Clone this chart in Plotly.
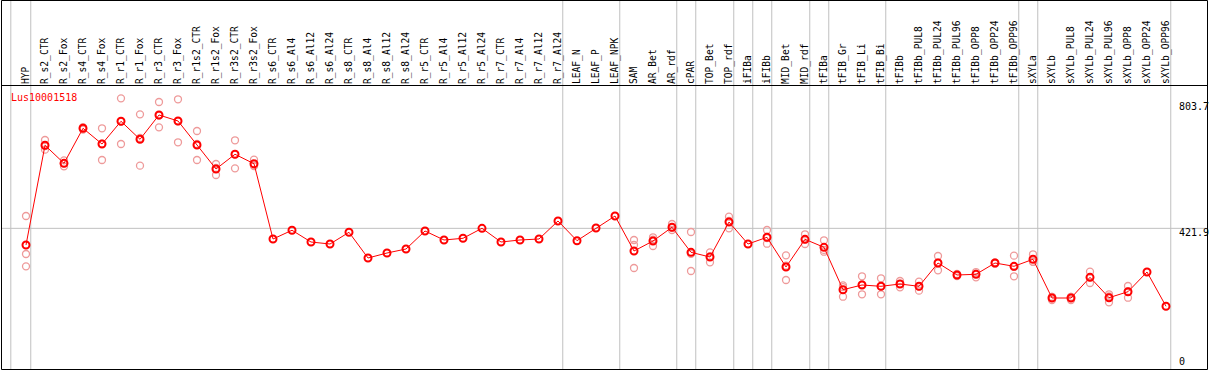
import plotly.graph_objects as go

categories = ["HYP", "R_s2_CTR", "R_s2_Fox", "R_s4_CTR", "R_s4_Fox", "R_r1_CTR", "R_r1_Fox",
              "R_r3_CTR", "R_r3_Fox", "R_r1s2_CTR", "R_r1s2_Fox", "R_r3s2_CTR", "R_r3s2_Fox",
              "R_s6_CTR", "R_s6_Al4", "R_s6_Al12", "R_s6_Al24", "R_s8_CTR", "R_s8_Al4",
              "R_s8_Al12", "R_s8_Al24", "R_r5_CTR", "R_r5_Al4", "R_r5_Al12", "R_r5_Al24",
              "R_r7_CTR", "R_r7_Al4", "R_r7_Al12", "R_r7_Al24", "LEAF_N", "LEAF_P", "LEAF_NPK",
              "SAM", "AR_Bet", "AR_rdf", "cPAR", "TOP_Bet", "TOP_rdf", "iFIBa", "iFIBb",
              "MID_Bet", "MID_rdf", "tFIBa", "tFIB_Gr", "tFIB_Li", "tFIB_Bi", "tFIBb",
              "tFIBb_PUL8", "tFIBb_PUL24", "tFIBb_PUL96", "tFIBb_OPP8", "tFIBb_OPP24",
              "tFIBb_OPP96", "sXYLa", "sXYLb", "sXYLb_PUL8", "sXYLb_PUL24", "sXYLb_PUL96",
              "sXYLb_OPP8", "sXYLb_OPP24", "sXYLb_OPP96"]

mean_values = [373.0, 665.8, 612.9, 715.7, 669.6, 736.3, 683.4, 754.8, 737.2, 666.7, 596.2,
               639.4, 611.7, 390.6, 416.2, 381.8, 375.9, 410.3, 334.8, 349.5, 361.2, 414.1,
               387.7, 392.7, 422.0, 381.8, 387.7, 390.6, 443.5, 385.6, 422.9, 458.1, 355.4,
               384.7, 425.0, 351.5, 337.7, 440.5, 375.9, 395.6, 308.4, 389.7, 366.2, 241.7,
               255.5, 251.7, 258.4, 251.7, 320.1, 284.9, 286.9, 320.1, 310.4, 331.0, 217.3,
               217.3, 278.1, 218.2, 235.8, 293.7, 193.0]

rep1 = [458.1, 681.3, 621.7, 712.0, 715.7, 803.7, 756.8, 793.0, 800.9, 707.8, 610.9, 680.5,
        623.5, None, None, None, None, None, None, None, None, None, None, None, None, None,
        None, None, None, None, None, None, 387.7, 395.6, 434.7, 411.2, 351.5, 456.1, None,
        417.0, 342.7, 404.4, 386.8, 254.6, 281.1, 275.2, 267.3, 265.2, 340.7, 288.0, 278.1,
        322.0, 341.6, 345.7, 211.5, 211.5, 294.6, 228.2, 252.6, None, None]
rep2 = [346.6, 652.9, 604.1, 716.0, 622.6, 669.6, 605.9, 718.6, 674.6, 622.6, 578.6, 598.2,
        605.0, None, None, None, None, None, None, None, None, None, None, None, None, None,
        None, None, None, None, None, None, 305.4, 370.0, 417.0, 296.6, 322.2, 422.0, None,
        376.8, 270.2, 375.9, 353.3, 221.1, 228.2, 228.2, 248.8, 238.8, 298.7, 282.0, 289.0,
        318.0, 281.1, 323.6, 220.2, 220.2, 261.4, 204.7, 218.2, None, None]
rep3 = [310.4, 663.2, 612.9, 719.0, 670.5, 735.5, 687.5, 752.8, 736.1, 669.7, 599.1, 639.5,
        606.6, None, None, None, None, None, None, None, None, None, None, None, None, None,
        None, None, None, None, None, None, 373.0, 388.5, 423.3, 346.8, 339.5, 443.5, None,
        393.0, 312.3, 388.8, 358.5, 249.4, 257.2, 251.7, 259.1, 251.1, 320.9, 284.7, 293.6,
        320.3, 308.5, 323.6, 220.2, 220.2, 278.3, 221.7, 236.6, None, None]

gene_name = "Lus10001518"
axis_labels = ["803.7", "421.9", "0"]
axis_label_pos = [0.924, 0.4818, 0.0291]
mid_grid_value = 421.9
group_separators = [-0.8, 0.25, 28.25, 31.25, 34.25, 35.25, 37.25, 38.25, 39.25, 41.25,
                    42.25, 45.25, 52.25, 53.25, 60.25]

W, H = 1209, 370
TOP = 85
idx = list(range(len(categories)))

fig = go.Figure()

rx, ry = [], []
for reps in (rep1, rep2, rep3):
    for i, v in enumerate(reps):
        if v is not None:
            rx.append(i)
            ry.append(v)

fig.add_trace(go.Scatter(
    x=rx, y=ry, mode="markers",
    marker=dict(symbol="circle-open", size=7, color="#ee9a9a", line=dict(width=1.3, color="#ee9a9a")),
    hoverinfo="skip", showlegend=False))

fig.add_trace(go.Scatter(
    x=idx, y=mean_values, mode="lines+markers",
    line=dict(color="#ff0000", width=1),
    marker=dict(symbol="circle-open", size=7, color="#ff0000", line=dict(width=2, color="#ff0000")),
    showlegend=False))

# pixel -> paper helper for layout decorations
def py(p):
    return (H - p) / (H - TOP)

shapes = []
for s in group_separators:
    shapes.append(dict(type="line", xref="x", yref="paper", x0=s, x1=s, y0=py(369), y1=py(0),
                       line=dict(color="#c0c0c0", width=1), layer="below"))
shapes.append(dict(type="line", xref="paper", yref="y", x0=1 / W, x1=1207 / W,
                   y0=mid_grid_value, y1=mid_grid_value,
                   line=dict(color="#c0c0c0", width=1), layer="below"))
# outer frame and header separator
shapes.append(dict(type="rect", xref="paper", yref="paper", x0=1.5 / W, x1=1207.5 / W,
                   y0=py(369.5), y1=py(0.5), line=dict(color="black", width=1)))
shapes.append(dict(type="line", xref="paper", yref="paper", x0=1.5 / W, x1=1207.5 / W,
                   y0=py(85.5), y1=py(85.5), line=dict(color="black", width=1)))

annotations = [dict(text=gene_name, xref="paper", yref="paper", x=9 / W, y=py(97.3),
                    xanchor="left", yanchor="middle", showarrow=False,
                    font=dict(family="DejaVu Sans Mono", size=10, color="#ff0000"))]
for lab, pos in zip(axis_labels, axis_label_pos):
    annotations.append(dict(text=lab, xref="paper", yref="paper", x=1177 / W, y=pos,
                            xanchor="left", yanchor="middle", showarrow=False,
                            font=dict(family="DejaVu Sans Mono", size=10, color="black")))

x_lo = -26 / 19
x_hi = x_lo + W / 19
y_k = 0.3405
y_zero_px = 372
y_lo = (y_zero_px - H) / y_k
y_hi = (y_zero_px - TOP) / y_k

fig.update_layout(
    width=W, height=H,
    margin=dict(l=0, r=0, t=TOP, b=0, autoexpand=False),
    plot_bgcolor="white", paper_bgcolor="white",
    xaxis=dict(range=[x_lo, x_hi], side="top", tickmode="array", tickvals=idx,
               ticktext=categories, tickangle=-90, showgrid=False, zeroline=False,
               showline=False, ticks="", automargin=False,
               tickfont=dict(family="DejaVu Sans Mono", size=9.6, color="black")),
    yaxis=dict(range=[y_lo, y_hi], showgrid=False, zeroline=False, showline=False,
               showticklabels=False, ticks=""),
    shapes=shapes, annotations=annotations,
)

fig.write_html("out.html", config={"displayModeBar": False},
               post_script="document.body.style.margin='0';document.body.style.overflow='hidden';")
